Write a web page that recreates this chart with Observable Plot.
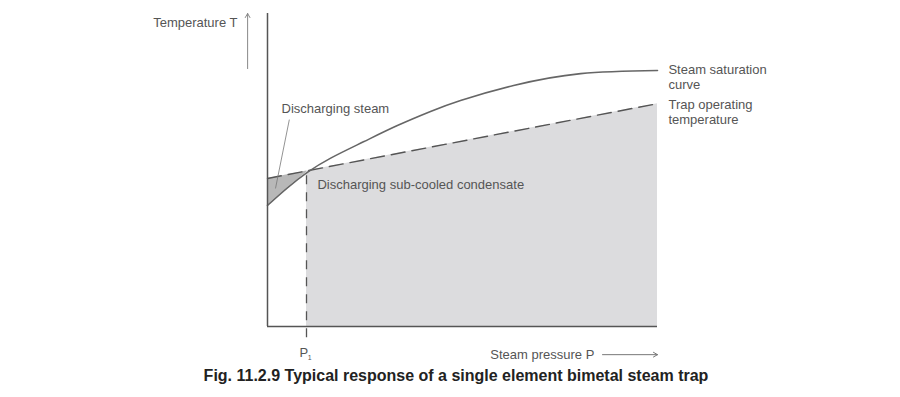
<!DOCTYPE html>
<html>
<head>
<meta charset="utf-8">
<script src="https://cdn.jsdelivr.net/npm/d3@7"></script>
<script src="https://cdn.jsdelivr.net/npm/@observablehq/plot@0.6"></script>
<style>
  body { margin: 0; background: #fff; font-family: "Liberation Sans", Arial, sans-serif; }
  #chart { width: 900px; height: 366px; }
  #caption { width: 900px; text-align: center; font-weight: bold; font-size: 16px; line-height: 19px; color: #222; padding-left: 12px; box-sizing: border-box; white-space: nowrap; }
</style>
</head>
<body>
<div id="chart"></div>
<div id="caption">Fig. 11.2.9 Typical response of a single element bimetal steam trap</div>
<script>
// Steam saturation curve (pressure P, temperature T)
const satP = [0, 5.1, 10.3, 16.2, 24.6, 33.3, 41.8, 49.5, 63.1, 80.3, 100];
const satT = [38.7, 44.3, 49.3, 53.8, 59.0, 64.2, 68.7, 72.2, 77.0, 80.8, 81.8];
// Trap operating temperature (dashed line)
const trapP = [0, 10, 100];
const trapT = [47.3, 49.7, 71.2];
// Discharging steam region (between saturation curve and trap line)
const steamP = [0, 5.1, 10];
const steamLow = [38.7, 44.3, 49.2];
const steamHigh = [47.3, 48.5, 49.7];
// P1 point
const p1 = 10;
// Labels
const yLabel = "Temperature T";
const xLabel = "Steam pressure P";
const satLabel = ["Steam saturation", "curve"];
const trapLabel = ["Trap operating", "temperature"];
const steamLabel = "Discharging steam";
const condLabel = "Discharging sub-cooled condensate";

const sat = satP.map((p, i) => ({p, t: satT[i]}));
const trap = trapP.map((p, i) => ({p, t: trapT[i]}));
const cond = trap.filter(d => d.p >= p1);
const steam = steamP.map((p, i) => ({p, lo: steamLow[i], hi: steamHigh[i]}));

const txt = {fill: "#555", fontSize: 13, fontFamily: "Liberation Sans, Arial, sans-serif"};

const chart = Plot.plot({
  width: 900,
  height: 366,
  marginTop: 13,
  marginBottom: 40,
  marginLeft: 267,
  marginRight: 243,
  x: {domain: [0, 100], axis: null},
  y: {domain: [0, 100], axis: null},
  marks: [
    Plot.areaY(cond, {x: "p", y1: 0, y2: "t", fill: "#dcdcde"}),
    Plot.areaY(steam, {x: "p", y1: "lo", y2: "hi", fill: "#b8b8b8", curve: "natural"}),
    Plot.ruleX([p1], {y1: -3.6, y2: trapT[1], stroke: "#555", strokeWidth: 1.3, strokeDasharray: "9,8"}),
    Plot.line(trap, {x: "p", y: "t", stroke: "#555", strokeWidth: 1.4, strokeDasharray: "14,7"}),
    Plot.line(sat, {x: "p", y: "t", stroke: "#666", strokeWidth: 1.6, curve: "natural"}),
    Plot.ruleX([0], {y1: 0, y2: 100, stroke: "#555", strokeWidth: 1.5}),
    Plot.ruleY([0], {x1: 0, x2: 100, stroke: "#555", strokeWidth: 1.5}),
    // pointer for discharging steam
    Plot.link([{x1: 5.6, y1: 66.1, x2: 2.05, y2: 44.1}], {x1: "x1", y1: "y1", x2: "x2", y2: "y2", stroke: "#777", strokeWidth: 0.8}),
    // y axis label and arrow
    Plot.text([yLabel], {x: -7.7, y: 97.1, text: d => d, textAnchor: "end", ...txt}),
    Plot.arrow([{x1: -5.1, y1: 82.4, x2: -5.1, y2: 100}], {x1: "x1", y1: "y1", x2: "x2", y2: "y2", stroke: "#888", strokeWidth: 1, headLength: 7, bend: 0}),
    // x axis label and arrow
    Plot.text([xLabel], {x: 83.8, y: -9.0, text: d => d, textAnchor: "end", ...txt}),
    Plot.arrow([{x1: 85.9, y1: -9.0, x2: 100, y2: -9.0}], {x1: "x1", y1: "y1", x2: "x2", y2: "y2", stroke: "#777", strokeWidth: 1, headLength: 7, bend: 0}),
    // P1
    Plot.text(["P"], {x: 9.3, y: -8.5, text: d => d, ...txt}),
    Plot.text(["1"], {x: 10.8, y: -9.9, text: d => d, ...txt, fontSize: 7}),
    // right labels
    Plot.text(satLabel, {x: 102.8, y: (d, i) => [82.1, 77.3][i], text: d => d, textAnchor: "start", ...txt}),
    Plot.text(trapLabel, {x: 102.8, y: (d, i) => [70.9, 66.1][i], text: d => d, textAnchor: "start", ...txt}),
    // inner labels
    Plot.text([steamLabel], {x: 3.6, y: 69.6, text: d => d, textAnchor: "start", ...txt}),
    Plot.text([condLabel], {x: 12.8, y: 45.4, text: d => d, textAnchor: "start", ...txt})
  ]
});
document.getElementById("chart").appendChild(chart);
</script>
</body>
</html>
